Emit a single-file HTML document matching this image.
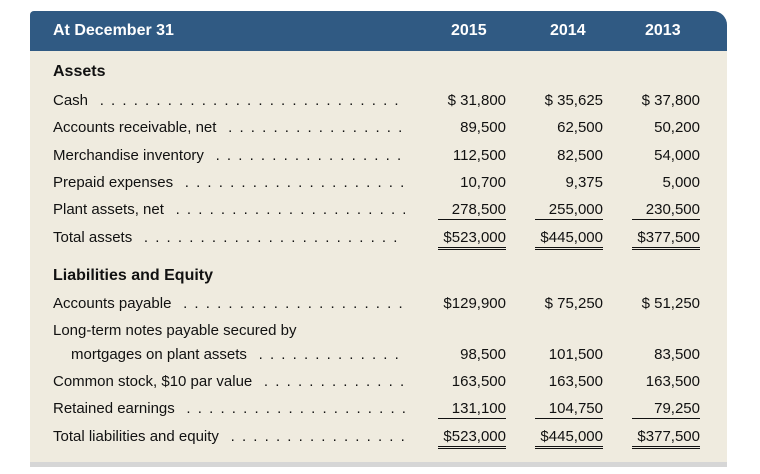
<!DOCTYPE html>
<html><head><style>
body{margin:0;width:760px;height:474px;background:#fff;position:relative;font-family:"Liberation Sans",sans-serif;overflow:hidden}
#p{position:absolute;left:30px;top:11px;width:697px;height:456px;background:#efebdf;border-radius:4px 14px 0 0;overflow:hidden}
#h{position:absolute;left:0;top:0;width:697px;height:40px;background:#305a83}
#g{position:absolute;left:0;top:451px;width:697px;height:6px;background:#d6d6d6}
.t{position:absolute;font-size:15px;color:#111;white-space:nowrap;line-height:18px}
.hd{color:#fff;font-weight:bold;font-size:16px}
.b{font-weight:bold;font-size:16px}
.d{position:absolute;left:0;width:405px;font-size:15px;line-height:18px;color:#111;white-space:nowrap;overflow:hidden;letter-spacing:1.5px}
.d span{background:#efebdf;padding-right:6px;letter-spacing:0}
.n{position:absolute;font-size:15px;line-height:18px;color:#111;text-align:right;width:90px}
.n span{display:inline-block;padding-left:2px}
.u span{border-bottom:1px solid #111}
.uu span{border-bottom:3px double #111}
</style></head><body>
<div id="p"><div id="h"></div><div id="g"></div></div>
<div class="t hd" style="left:53px;top:22px">At December 31</div>
<div class="t hd" style="left:451px;top:22px">2015</div>
<div class="t hd" style="left:550px;top:22px">2014</div>
<div class="t hd" style="left:645px;top:22px">2013</div>
<div class="t b" style="left:53px;top:63px">Assets</div>
<div class="t b" style="left:53px;top:267px">Liabilities and Equity</div>
<div id="rows"></div>
<script>
const R=[
[92,"Cash","$ 31,800","$ 35,625","$ 37,800",""],
[119,"Accounts receivable, net","89,500","62,500","50,200",""],
[147,"Merchandise inventory","112,500","82,500","54,000",""],
[174,"Prepaid expenses","10,700","9,375","5,000",""],
[201,"Plant assets, net","278,500","255,000","230,500","u"],
[229,"Total assets","$523,000","$445,000","$377,500","uu"],
[295,"Accounts payable","$129,900","$ 75,250","$ 51,250",""],
[346,"  mortgages on plant assets","98,500","101,500","83,500",""],
[373,"Common stock, $10 par value","163,500","163,500","163,500",""],
[400,"Retained earnings","131,100","104,750","79,250","u"],
[428,"Total liabilities and equity","$523,000","$445,000","$377,500","uu"]];
let h="";
const dots=" .".repeat(80);
for(const r of R){
 const ind=r[1].startsWith("  ");const lbl=r[1].trim();
 h+=`<div class="d" style="top:${r[0]}px;left:${ind?71:53}px;width:${ind?334:352}px"><span>${lbl}</span>${dots}</div>`;
 const xs=[416,513,610];
 for(let i=0;i<3;i++){let v=r[2+i];
  h+=`<div class="n ${r[5]}" style="left:${xs[i]}px;top:${r[0]}px"><span style="${r[5]?'min-width:66px;text-align:right':''}">${v}</span></div>`;}
}
h+=`<div class="t" style="left:53px;top:322px">Long-term notes payable secured by</div>`;
document.getElementById("rows").innerHTML=h;
</script>
</body></html>
